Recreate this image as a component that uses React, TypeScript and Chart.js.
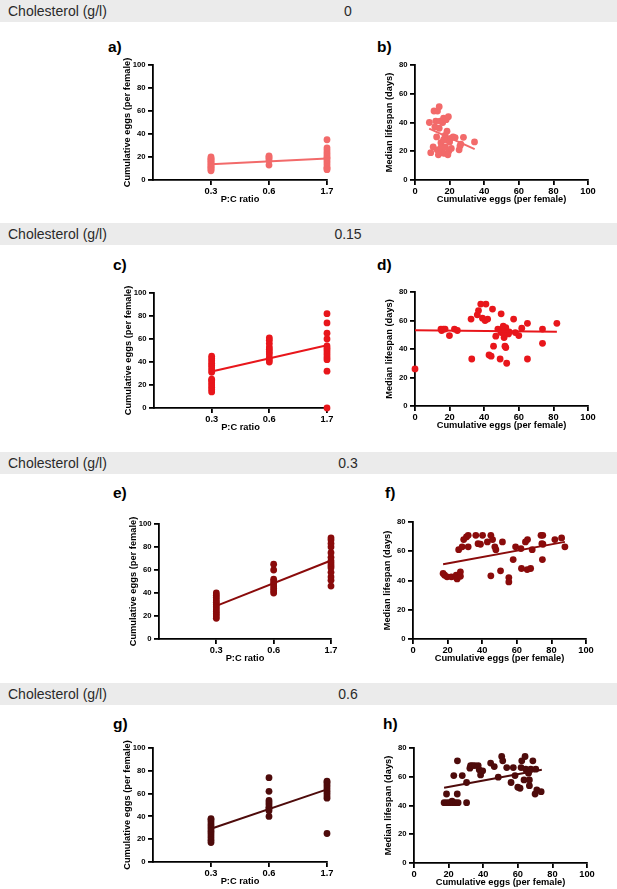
import React, { useEffect, useRef } from 'react';
import { Chart, registerables } from 'chart.js';

Chart.register(...registerables);

const FONT = "'Liberation Sans', Arial, Helvetica, sans-serif";

// ---------- Data ----------
const pcLabels = ['0.3', '0.6', '1.7'];
const cholLevels = ['0', '0.15', '0.3', '0.6'];

// a) Cholesterol 0
const a03 = [8, 9, 10, 11, 12, 13, 14, 15, 16, 17, 18, 19, 20];
const a06 = [13, 17, 19, 20, 21];
const a17 = [9, 10, 11, 13, 15, 17, 19, 20, 22, 24, 26, 28, 35];
const fitA = [13.8, 18.8];

// b) Cholesterol 0
const bEggs = [8.3, 9.1, 10.5, 11, 11.5, 12, 12.5, 12.8, 13, 13.5, 14, 14, 14.5, 15, 15, 15.5, 16, 16.5, 16.5, 17, 17.4, 17.5, 18, 18.5, 18.7, 19, 19.3, 19.5, 20, 20.5, 21, 22, 23.2, 25.5, 26, 26.5, 28, 34.4];
const bLife = [40, 19, 23, 48, 37, 41, 30, 21, 48, 17.5, 51, 36, 41, 22.5, 26, 19, 40, 43, 28, 18.5, 31, 23, 42, 34, 27.8, 17.5, 44, 20, 26.5, 29, 22, 30, 29.5, 21, 23.7, 25, 29.7, 26.5];
const fitBX = [8.2, 34.5];
const fitBY = [35.8, 21.5];

// c) Cholesterol 0.15
const c03 = [14, 16, 18, 20, 22, 24, 25, 31, 33, 35, 37, 39, 41, 43, 45];
const c06 = [40, 42, 44, 47, 49, 51, 53, 56, 59, 61];
const c17 = [0, 32, 42, 44, 46, 48, 50, 52, 54, 60, 65, 74, 82];
const fitC = [31.8, 54.5];

// d) Cholesterol 0.15
const dEggs = [0, 15, 15.4, 16.4, 17.4, 19.9, 22.8, 24.5, 32.4, 32.8, 36, 36.7, 38, 41, 39, 40.5, 42, 42.8, 44, 44.8, 45.4, 46.7, 47.9, 49.8, 49.8, 49.2, 51, 52.5, 51.5, 52.5, 53, 54, 54.4, 57, 58, 60, 61.7, 65, 65, 73.7, 73.7, 82, 51, 52];
const dLife = [26, 54, 53, 54, 54, 49.4, 54, 53, 61, 33, 64, 67, 71.5, 71.5, 61.6, 60, 61, 35.8, 35, 68, 42, 49, 54, 51.5, 64.7, 33, 56, 55, 48, 41, 30, 50.6, 52, 61, 51.5, 49.4, 54.6, 58, 33, 54, 44, 58, 52, 42];
const fitDX = [0, 82];
const fitDY = [53.2, 52.1];

// e) Cholesterol 0.3
const e03 = [18, 20, 22, 24, 26, 28, 30, 32, 34, 36, 38, 40];
const e06 = [40, 42, 44, 46, 48, 50, 52, 60, 65];
const e17 = [46, 51, 54, 58, 62, 64, 66, 68, 71, 75, 80, 83, 86, 88];
const fitE = [28.8, 68.3];

// f) Cholesterol 0.3
const fEggs = [17.4, 18.3, 19.7, 22.2, 25, 25, 25.5, 27.4, 27.4, 26.4, 28.4, 29.3, 30.9, 31.9, 31.9, 36.3, 37.6, 39, 40.2, 43, 45, 46, 47.3, 47.9, 45, 50.6, 51.7, 55.4, 55.4, 57.9, 59.3, 62.4, 62.7, 65, 66.2, 66, 68, 68.9, 74, 75, 74.5, 75.1, 74.8, 82, 85.9, 87.8];
const fLife = [44.8, 43.6, 42.5, 42.5, 43.6, 42, 41.1, 42.9, 45.9, 61.1, 63, 68, 69.8, 70.9, 63, 70.9, 65.2, 64.8, 70.9, 66.4, 70.9, 68, 63, 61.1, 43.2, 46.6, 66.4, 42, 39, 54.3, 63, 61.8, 48.2, 66.4, 68, 47.5, 48.2, 61.1, 70.9, 70.9, 65.2, 64.8, 54.3, 68, 69.1, 63];
const fitFX = [17.4, 87.8];
const fitFY = [51.1, 66.4];

// g) Cholesterol 0.6
const g03 = [17, 19, 21, 23, 25, 27, 29, 31, 33, 35, 37, 38];
const g06 = [40, 45, 47, 48, 50, 52, 54, 62, 74];
const g17 = [25, 56, 58, 60, 62, 64, 66, 68, 70, 71];
const fitG = [29.2, 63.7];

// h) Cholesterol 0.6
const hEggs = [17.4, 18.8, 19.1, 20.7, 22, 22.6, 23, 24, 25, 25.5, 25.1, 27.9, 30.4, 30.4, 32.3, 32.7, 33.8, 35.2, 37.1, 37.7, 38.5, 39.7, 44.3, 46.4, 48.7, 50.7, 51.3, 53.6, 56.1, 57.4, 58.4, 60, 61.3, 61.9, 62.3, 63.6, 64.2, 64.6, 66.2, 66.7, 66.7, 67.5, 68.7, 70, 71, 70.4, 73.5];
const hLife = [42, 48, 42, 42, 43.1, 42, 60.8, 42, 48, 42, 71.1, 60.8, 56, 42, 66, 67.8, 67.8, 67.8, 67.8, 64.8, 61.3, 64.1, 69.5, 67.1, 59.7, 74.1, 71.1, 66.4, 56, 66.4, 60.8, 52.7, 52, 66.4, 71.1, 57.8, 74.1, 65.3, 62.5, 57.8, 53.8, 65.3, 71.1, 48, 50.8, 65.3, 49.6];
const fitHX = [17.4, 73.9];
const fitHY = [52.4, 64.8];

const colors = ['#f26a6a', '#e8161b', '#8a0b0b', '#4e0b0b'];

// ---------- Layout constants ----------
const YW = 32;
const XH = 30;
const PT = 10;
const PR = 14;

type Pt = { x: number; y: number };

const groupPoints = (groups: number[][]): Pt[] =>
  groups.flatMap((g, i) => g.map((v) => ({ x: i + 1, y: v })));
const zipPoints = (xs: number[], ys: number[]): Pt[] => xs.map((x, i) => ({ x, y: ys[i] }));

type PanelSpec = {
  kind: 'pc' | 'sc';
  area: [number, number, number, number];
  color: string;
  points: Pt[];
  fit: Pt[];
};

const panels: PanelSpec[] = [
  { kind: 'pc', area: [153, 65, 327, 180], color: colors[0], points: groupPoints([a03, a06, a17]), fit: [{ x: 1, y: fitA[0] }, { x: 3, y: fitA[1] }] },
  { kind: 'sc', area: [415, 65, 588, 180], color: colors[0], points: zipPoints(bEggs, bLife), fit: zipPoints(fitBX, fitBY) },
  { kind: 'pc', area: [154, 293, 327, 408], color: colors[1], points: groupPoints([c03, c06, c17]), fit: [{ x: 1, y: fitC[0] }, { x: 3, y: fitC[1] }] },
  { kind: 'sc', area: [415, 292, 588, 406], color: colors[1], points: zipPoints(dEggs, dLife), fit: zipPoints(fitDX, fitDY) },
  { kind: 'pc', area: [159, 524, 331, 639], color: colors[2], points: groupPoints([e03, e06, e17]), fit: [{ x: 1, y: fitE[0] }, { x: 3, y: fitE[1] }] },
  { kind: 'sc', area: [413, 522, 586, 639], color: colors[2], points: zipPoints(fEggs, fLife), fit: zipPoints(fitFX, fitFY) },
  { kind: 'pc', area: [153, 748, 327, 862], color: colors[3], points: groupPoints([g03, g06, g17]), fit: [{ x: 1, y: fitG[0] }, { x: 3, y: fitG[1] }] },
  { kind: 'sc', area: [414, 748, 587, 863], color: colors[3], points: zipPoints(hEggs, hLife), fit: zipPoints(fitHX, fitHY) },
];

const letters = [
  { t: 'a)', x: 108, y: 39 },
  { t: 'b)', x: 377, y: 39 },
  { t: 'c)', x: 113, y: 257 },
  { t: 'd)', x: 377, y: 257 },
  { t: 'e)', x: 113, y: 485 },
  { t: 'f)', x: 385, y: 485 },
  { t: 'g)', x: 113, y: 716 },
  { t: 'h)', x: 383, y: 716 },
];

const headerTops = [0, 223, 452, 683];

function makeConfig(p: PanelSpec): any {
  const xTickFont = { family: FONT, size: 9.3, weight: 'bold' as const };
  const yTickFont = { family: FONT, size: 7.7, weight: 'bold' as const };
  const titleFont = { family: FONT, size: 9.3, weight: 'bold' as const };
  const grid = {
    display: true,
    drawOnChartArea: false,
    drawTicks: true,
    tickLength: 5,
    tickWidth: 1.8,
    tickColor: '#000',
    color: '#000',
    lineWidth: 1.8,
  };
  const border = { display: true, color: '#000', width: 1.8 };
  const isPC = p.kind === 'pc';
  const xScale: any = {
    type: 'linear',
    min: 0,
    max: isPC ? 3 : 100,
    grid,
    border,
    ticks: {
      stepSize: 20,
      font: xTickFont,
      color: '#000',
      padding: 1,
      maxRotation: 0,
      autoSkip: false,
      callback: isPC ? (v: number) => pcLabels[v - 1] : (v: number) => String(v),
    },
    title: {
      display: true,
      text: isPC ? 'P:C ratio' : 'Cumulative eggs (per female)',
      font: titleFont,
      color: '#000',
      padding: { top: 0, bottom: 4.5 },
    },
    afterFit: (s: any) => {
      s.height = XH;
    },
  };
  if (isPC) {
    xScale.afterBuildTicks = (s: any) => {
      s.ticks = [1, 2, 3].map((v) => ({ value: v }));
    };
  }
  return {
    type: 'scatter',
    data: {
      datasets: [
        {
          data: p.fit,
          showLine: true,
          borderColor: p.color,
          borderWidth: 2,
          pointRadius: 0,
          clip: false,
          order: 0,
        },
        {
          data: p.points,
          backgroundColor: p.color,
          borderWidth: 0,
          pointRadius: 3.4,
          pointHoverRadius: 3.4,
          clip: false,
          order: 1,
        },
      ],
    },
    options: {
      responsive: false,
      animation: false,
      events: [],
      layout: { padding: { top: PT, right: PR, left: 0, bottom: 0 } },
      plugins: { legend: { display: false }, tooltip: { enabled: false } },
      scales: {
        x: xScale,
        y: {
          type: 'linear',
          min: 0,
          max: isPC ? 100 : 80,
          grid,
          border,
          ticks: { stepSize: 20, font: yTickFont, color: '#000', padding: 2.5 },
          title: {
            display: true,
            text: isPC ? 'Cumulative eggs (per female)' : 'Median lifespan (days)',
            font: titleFont,
            color: '#000',
            padding: { top: 1.3, bottom: 0 },
          },
          afterFit: (s: any) => {
            s.width = YW;
          },
        },
      },
    },
  };
}

function Panel({ p }: { p: PanelSpec }) {
  const ref = useRef<HTMLCanvasElement>(null);
  const [L, T, R, B] = p.area;
  const left = L - YW;
  const top = T - PT;
  const w = R - L + YW + PR;
  const h = B - T + PT + XH;
  useEffect(() => {
    const chart = new Chart(ref.current as HTMLCanvasElement, makeConfig(p));
    return () => chart.destroy();
  }, []);
  return (
    <canvas
      ref={ref}
      width={w}
      height={h}
      style={{ position: 'absolute', left, top, width: w, height: h }}
    />
  );
}

export default function App() {
  return (
    <div
      style={{
        position: 'absolute',
        left: 0,
        top: 0,
        width: 617,
        height: 889,
        background: '#fff',
        overflow: 'hidden',
        fontFamily: FONT,
      }}
    >
      {headerTops.map((t, i) => (
        <div
          key={'h' + i}
          style={{
            position: 'absolute',
            left: 0,
            top: t,
            width: 617,
            height: 22,
            background: '#ebebeb',
            color: '#2a2a2a',
            fontSize: 14,
            lineHeight: '22px',
          }}
        >
          <span style={{ position: 'absolute', left: 8 }}>Cholesterol (g/l)</span>
          <span style={{ position: 'absolute', left: 348, transform: 'translateX(-50%)' }}>
            {cholLevels[i]}
          </span>
        </div>
      ))}
      {letters.map((l) => (
        <div
          key={l.t}
          style={{
            position: 'absolute',
            left: l.x,
            top: l.y,
            fontSize: 15.5,
            fontWeight: 'bold',
            lineHeight: '16px',
            color: '#000',
          }}
        >
          {l.t}
        </div>
      ))}
      {panels.map((p, i) => (
        <Panel key={i} p={p} />
      ))}
    </div>
  );
}
